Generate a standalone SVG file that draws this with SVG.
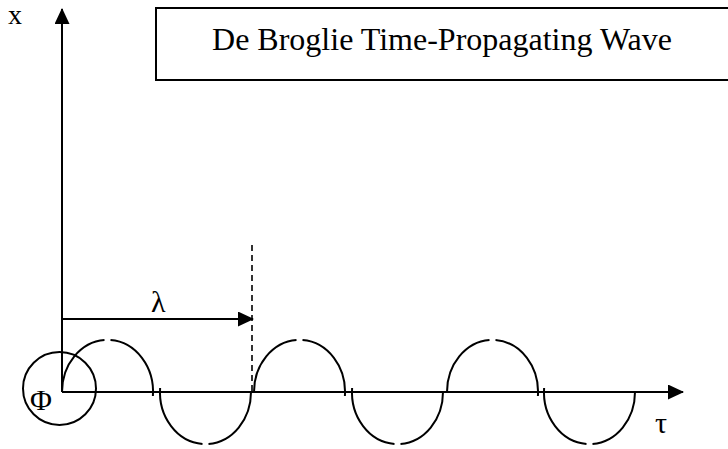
<svg xmlns="http://www.w3.org/2000/svg" width="728" height="449" viewBox="0 0 728 449">
<style>
.ln{fill:none;stroke:#000;stroke-width:2}
.arc{fill:none;stroke:#000;stroke-width:2}
.dash{fill:none;stroke:#000;stroke-width:1.6;stroke-dasharray:6,4}
text{fill:#000}
</style>
<defs>
<marker id="ah" markerUnits="userSpaceOnUse" markerWidth="16" markerHeight="15" refX="15" refY="7.5" orient="auto">
<path d="M0,0 L16,7.5 L0,15 Z" fill="#000"/>
</marker>
</defs>
<rect width="728" height="449" fill="#fff"/>
<g id="title">
<rect x="156" y="8" width="580" height="72" fill="#fff" stroke="#000" stroke-width="2"/>
<text font-family="'Liberation Serif', 'DejaVu Serif', serif" x="442" y="50" font-size="32" text-anchor="middle">De Broglie Time-Propagating Wave</text>
</g>
<g id="labels" font-family="'Liberation Serif', 'DejaVu Serif', serif">
<text x="8" y="24" font-size="28">x</text>
<text x="655" y="433" font-size="30">τ</text>
<text x="151" y="312" font-size="30">λ</text>
</g>
<g id="phi">
<circle cx="59.5" cy="388.5" r="36.5" class="ln"/>
<text font-family="'Liberation Serif', 'DejaVu Serif', serif" x="30" y="410" font-size="30">Φ</text>
</g>
<g id="wave">
<path class="arc" d="M62,392 A45.5,52 0 0 1 104.5,340.1 M110.5,340.1 A45.5,52 0 0 1 152.9,396"/>
<path class="arc" d="M160.1,388 A45.5,52 0 0 0 202.5,443.9 M208.5,443.9 A45.5,52 0 0 0 251,392"/>
<path class="arc" d="M254,392 A45.5,52 0 0 1 296.5,340.1 M302.5,340.1 A45.5,52 0 0 1 344.9,396"/>
<path class="arc" d="M352.1,388 A45.5,52 0 0 0 394.5,443.9 M400.5,443.9 A45.5,52 0 0 0 443,392"/>
<path class="arc" d="M447,392 A45.5,52 0 0 1 489.5,340.1 M495.5,340.1 A45.5,52 0 0 1 537.9,396"/>
<path class="arc" d="M544.1,388 A45.5,52 0 0 0 586.5,443.9 M592.5,443.9 A45.5,52 0 0 0 635,392"/>
</g>
<g id="connectors">
<line class="ln" x1="62" y1="392" x2="62" y2="9" marker-end="url(#ah)"/>
<line class="ln" x1="62" y1="392" x2="683" y2="392" marker-end="url(#ah)"/>
<line class="ln" x1="62" y1="319" x2="253" y2="319" marker-end="url(#ah)"/>
<line class="dash" x1="252" y1="245" x2="252" y2="392"/>
</g>
</svg>
